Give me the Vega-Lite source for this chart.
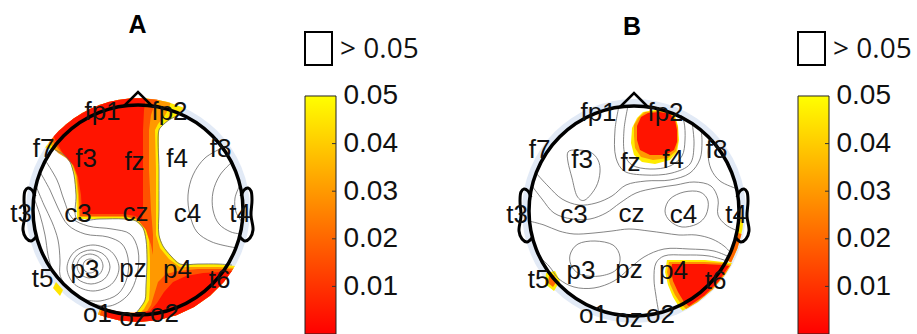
{
"$schema":"https://vega.github.io/schema/vega-lite/v6.json",
"padding":0,"spacing":0,"bounds":"flush","background":"white",
"config":{"view":{"stroke":null}},
"datasets":{
"regA":[
{"id":"a1","p":0.046,"i":0,"x":45.6,"y":102.3},{"id":"a1","p":0.046,"i":1,"x":29.0,"y":108.2},{"id":"a1","p":0.046,"i":2,"x":9.8,"y":111.6},{"id":"a1","p":0.046,"i":3,"x":-9.8,"y":111.6},{"id":"a1","p":0.046,"i":4,"x":-29.0,"y":108.2},{"id":"a1","p":0.046,"i":5,"x":-47.3,"y":101.5},{"id":"a1","p":0.046,"i":6,"x":-64.2,"y":91.7},{"id":"a1","p":0.046,"i":7,"x":-79.2,"y":79.2},{"id":"a1","p":0.046,"i":8,"x":-92.9,"y":62.6},{"id":"a1","p":0.046,"i":9,"x":-83,"y":60},{"id":"a1","p":0.046,"i":10,"x":-74,"y":55},{"id":"a1","p":0.046,"i":11,"x":-68,"y":48},{"id":"a1","p":0.046,"i":12,"x":-64,"y":35},{"id":"a1","p":0.046,"i":13,"x":-62,"y":15},{"id":"a1","p":0.046,"i":14,"x":-61,"y":-9},{"id":"a1","p":0.046,"i":15,"x":-38,"y":-9},{"id":"a1","p":0.046,"i":16,"x":-14,"y":-9},{"id":"a1","p":0.046,"i":17,"x":-2,"y":-11},{"id":"a1","p":0.046,"i":18,"x":5,"y":-18},{"id":"a1","p":0.046,"i":19,"x":8,"y":-30},{"id":"a1","p":0.046,"i":20,"x":9,"y":-50},{"id":"a1","p":0.046,"i":21,"x":8,"y":-75},{"id":"a1","p":0.046,"i":22,"x":7,"y":-90},{"id":"a1","p":0.046,"i":23,"x":2,"y":-98},{"id":"a1","p":0.046,"i":24,"x":-2,"y":-103},{"id":"a1","p":0.046,"i":25,"x":-18.1,"y":-102.4},{"id":"a1","p":0.046,"i":26,"x":-37.3,"y":-97.1},{"id":"a1","p":0.046,"i":27,"x":-40.1,"y":-104.6},{"id":"a1","p":0.046,"i":28,"x":-19.4,"y":-110.3},{"id":"a1","p":0.046,"i":29,"x":0,"y":-112},{"id":"a1","p":0.046,"i":30,"x":19.4,"y":-110.3},{"id":"a1","p":0.046,"i":31,"x":38.3,"y":-105.2},{"id":"a1","p":0.046,"i":32,"x":56,"y":-97},{"id":"a1","p":0.046,"i":33,"x":72,"y":-85.8},{"id":"a1","p":0.046,"i":34,"x":85.8,"y":-72},{"id":"a1","p":0.046,"i":35,"x":97,"y":-56},{"id":"a1","p":0.046,"i":36,"x":80,"y":-54},{"id":"a1","p":0.046,"i":37,"x":60,"y":-54},{"id":"a1","p":0.046,"i":38,"x":42,"y":-54},{"id":"a1","p":0.046,"i":39,"x":33,"y":-46},{"id":"a1","p":0.046,"i":40,"x":25,"y":-36},{"id":"a1","p":0.046,"i":41,"x":21,"y":-25},{"id":"a1","p":0.046,"i":42,"x":21,"y":0},{"id":"a1","p":0.046,"i":43,"x":21,"y":40},{"id":"a1","p":0.046,"i":44,"x":21,"y":80},{"id":"a1","p":0.046,"i":45,"x":24,"y":84},{"id":"a1","p":0.046,"i":46,"x":31,"y":90},{"id":"a1","p":0.046,"i":47,"x":39,"y":94},
{"id":"a5","p":0.045,"i":0,"x":-82,"y":-72},{"id":"a5","p":0.045,"i":1,"x":-75,"y":-80},{"id":"a5","p":0.045,"i":2,"x":-78,"y":-86},{"id":"a5","p":0.045,"i":3,"x":-85,"y":-78},
{"id":"a2","p":0.03,"i":0,"x":32.7,"y":107.1},{"id":"a2","p":0.03,"i":1,"x":19.4,"y":110.3},{"id":"a2","p":0.03,"i":2,"x":0,"y":112},{"id":"a2","p":0.03,"i":3,"x":-19.4,"y":110.3},{"id":"a2","p":0.03,"i":4,"x":-38.3,"y":105.2},{"id":"a2","p":0.03,"i":5,"x":-56,"y":97},{"id":"a2","p":0.03,"i":6,"x":-72,"y":85.8},{"id":"a2","p":0.03,"i":7,"x":-89.4,"y":67.4},{"id":"a2","p":0.03,"i":8,"x":-80,"y":57},{"id":"a2","p":0.03,"i":9,"x":-72,"y":52},{"id":"a2","p":0.03,"i":10,"x":-66,"y":46},{"id":"a2","p":0.03,"i":11,"x":-62,"y":34},{"id":"a2","p":0.03,"i":12,"x":-60,"y":15},{"id":"a2","p":0.03,"i":13,"x":-59,"y":-7},{"id":"a2","p":0.03,"i":14,"x":-38,"y":-7},{"id":"a2","p":0.03,"i":15,"x":-14,"y":-7},{"id":"a2","p":0.03,"i":16,"x":-1,"y":-9},{"id":"a2","p":0.03,"i":17,"x":7,"y":-17},{"id":"a2","p":0.03,"i":18,"x":11,"y":-30},{"id":"a2","p":0.03,"i":19,"x":12,"y":-50},{"id":"a2","p":0.03,"i":20,"x":12,"y":-75},{"id":"a2","p":0.03,"i":21,"x":11,"y":-90},{"id":"a2","p":0.03,"i":22,"x":6,"y":-99},{"id":"a2","p":0.03,"i":23,"x":2,"y":-103},{"id":"a2","p":0.03,"i":24,"x":-18.1,"y":-102.4},{"id":"a2","p":0.03,"i":25,"x":-37.3,"y":-97.1},{"id":"a2","p":0.03,"i":26,"x":-40.1,"y":-104.6},{"id":"a2","p":0.03,"i":27,"x":-19.4,"y":-110.3},{"id":"a2","p":0.03,"i":28,"x":0,"y":-112},{"id":"a2","p":0.03,"i":29,"x":19.4,"y":-110.3},{"id":"a2","p":0.03,"i":30,"x":38.3,"y":-105.2},{"id":"a2","p":0.03,"i":31,"x":56,"y":-97},{"id":"a2","p":0.03,"i":32,"x":72,"y":-85.8},{"id":"a2","p":0.03,"i":33,"x":85.8,"y":-72},{"id":"a2","p":0.03,"i":34,"x":96,"y":-57.7},{"id":"a2","p":0.03,"i":35,"x":80,"y":-57},{"id":"a2","p":0.03,"i":36,"x":60,"y":-57},{"id":"a2","p":0.03,"i":37,"x":42,"y":-57},{"id":"a2","p":0.03,"i":38,"x":31,"y":-49},{"id":"a2","p":0.03,"i":39,"x":22,"y":-38},{"id":"a2","p":0.03,"i":40,"x":18,"y":-25},{"id":"a2","p":0.03,"i":41,"x":18,"y":0},{"id":"a2","p":0.03,"i":42,"x":18,"y":40},{"id":"a2","p":0.03,"i":43,"x":17,"y":80},{"id":"a2","p":0.03,"i":44,"x":20,"y":86},{"id":"a2","p":0.03,"i":45,"x":26,"y":93},{"id":"a2","p":0.03,"i":46,"x":30,"y":100},
{"id":"a3f","p":0.016,"i":0,"x":19.4,"y":110.3},{"id":"a3f","p":0.016,"i":1,"x":0,"y":112},{"id":"a3f","p":0.016,"i":2,"x":-19.4,"y":110.3},{"id":"a3f","p":0.016,"i":3,"x":-38.3,"y":105.2},{"id":"a3f","p":0.016,"i":4,"x":-56,"y":97},{"id":"a3f","p":0.016,"i":5,"x":-72,"y":85.8},{"id":"a3f","p":0.016,"i":6,"x":-87.0,"y":70.5},{"id":"a3f","p":0.016,"i":7,"x":-78,"y":59},{"id":"a3f","p":0.016,"i":8,"x":-71,"y":52},{"id":"a3f","p":0.016,"i":9,"x":-65,"y":45},{"id":"a3f","p":0.016,"i":10,"x":-61,"y":34},{"id":"a3f","p":0.016,"i":11,"x":-59,"y":15},{"id":"a3f","p":0.016,"i":12,"x":-58,"y":-6},{"id":"a3f","p":0.016,"i":13,"x":-38,"y":-6},{"id":"a3f","p":0.016,"i":14,"x":-14,"y":-6},{"id":"a3f","p":0.016,"i":15,"x":-1,"y":-9},{"id":"a3f","p":0.016,"i":16,"x":8,"y":-20},{"id":"a3f","p":0.016,"i":17,"x":13,"y":-35},{"id":"a3f","p":0.016,"i":18,"x":15,"y":-45},{"id":"a3f","p":0.016,"i":19,"x":15,"y":-25},{"id":"a3f","p":0.016,"i":20,"x":13,"y":0},{"id":"a3f","p":0.016,"i":21,"x":11,"y":40},{"id":"a3f","p":0.016,"i":22,"x":11,"y":80},{"id":"a3f","p":0.016,"i":23,"x":13,"y":95},{"id":"a3f","p":0.016,"i":24,"x":16,"y":104},
{"id":"a3l","p":0.016,"i":0,"x":-38.3,"y":-105.2},{"id":"a3l","p":0.016,"i":1,"x":-19.4,"y":-110.3},{"id":"a3l","p":0.016,"i":2,"x":0,"y":-112},{"id":"a3l","p":0.016,"i":3,"x":19.4,"y":-110.3},{"id":"a3l","p":0.016,"i":4,"x":38.3,"y":-105.2},{"id":"a3l","p":0.016,"i":5,"x":56,"y":-97},{"id":"a3l","p":0.016,"i":6,"x":72,"y":-85.8},{"id":"a3l","p":0.016,"i":7,"x":85.8,"y":-72},{"id":"a3l","p":0.016,"i":8,"x":95,"y":-59.3},{"id":"a3l","p":0.016,"i":9,"x":88,"y":-59},{"id":"a3l","p":0.016,"i":10,"x":60,"y":-59},{"id":"a3l","p":0.016,"i":11,"x":40,"y":-61},{"id":"a3l","p":0.016,"i":12,"x":28,"y":-64},{"id":"a3l","p":0.016,"i":13,"x":20,"y":-72},{"id":"a3l","p":0.016,"i":14,"x":16,"y":-85},{"id":"a3l","p":0.016,"i":15,"x":13,"y":-95},{"id":"a3l","p":0.016,"i":16,"x":8,"y":-103},{"id":"a3l","p":0.016,"i":17,"x":-18.1,"y":-102.4},{"id":"a3l","p":0.016,"i":18,"x":-35.6,"y":-97.7},
{"id":"a4f","p":0.004,"i":0,"x":7.8,"y":111.7},{"id":"a4f","p":0.004,"i":1,"x":-9.8,"y":111.6},{"id":"a4f","p":0.004,"i":2,"x":-29.0,"y":108.2},{"id":"a4f","p":0.004,"i":3,"x":-47.3,"y":101.5},{"id":"a4f","p":0.004,"i":4,"x":-64.2,"y":91.7},{"id":"a4f","p":0.004,"i":5,"x":-79.2,"y":79.2},{"id":"a4f","p":0.004,"i":6,"x":-84.5,"y":73.5},{"id":"a4f","p":0.004,"i":7,"x":-76,"y":58},{"id":"a4f","p":0.004,"i":8,"x":-70,"y":51},{"id":"a4f","p":0.004,"i":9,"x":-64,"y":44},{"id":"a4f","p":0.004,"i":10,"x":-60,"y":33},{"id":"a4f","p":0.004,"i":11,"x":-57,"y":15},{"id":"a4f","p":0.004,"i":12,"x":-56,"y":-4},{"id":"a4f","p":0.004,"i":13,"x":-38,"y":-4},{"id":"a4f","p":0.004,"i":14,"x":-14,"y":-4},{"id":"a4f","p":0.004,"i":15,"x":-3,"y":-6},{"id":"a4f","p":0.004,"i":16,"x":4,"y":-10},{"id":"a4f","p":0.004,"i":17,"x":5,"y":0},{"id":"a4f","p":0.004,"i":18,"x":5,"y":40},{"id":"a4f","p":0.004,"i":19,"x":5,"y":80},{"id":"a4f","p":0.004,"i":20,"x":6,"y":100},
{"id":"a4l","p":0.004,"i":0,"x":-34.6,"y":-106.5},{"id":"a4l","p":0.004,"i":1,"x":-19.4,"y":-110.3},{"id":"a4l","p":0.004,"i":2,"x":0,"y":-112},{"id":"a4l","p":0.004,"i":3,"x":19.4,"y":-110.3},{"id":"a4l","p":0.004,"i":4,"x":38.3,"y":-105.2},{"id":"a4l","p":0.004,"i":5,"x":56,"y":-97},{"id":"a4l","p":0.004,"i":6,"x":72,"y":-85.8},{"id":"a4l","p":0.004,"i":7,"x":85.8,"y":-72},{"id":"a4l","p":0.004,"i":8,"x":93.9,"y":-61},{"id":"a4l","p":0.004,"i":9,"x":85,"y":-62},{"id":"a4l","p":0.004,"i":10,"x":65,"y":-63},{"id":"a4l","p":0.004,"i":11,"x":48,"y":-66},{"id":"a4l","p":0.004,"i":12,"x":35,"y":-72},{"id":"a4l","p":0.004,"i":13,"x":26,"y":-82},{"id":"a4l","p":0.004,"i":14,"x":19,"y":-93},{"id":"a4l","p":0.004,"i":15,"x":12,"y":-101},{"id":"a4l","p":0.004,"i":16,"x":-9.1,"y":-103.6},{"id":"a4l","p":0.004,"i":17,"x":-32.1,"y":-98.9}
],
"regB":[
{"id":"b1","p":0.046,"i":0,"x":3,"y":93},{"id":"b1","p":0.046,"i":1,"x":9,"y":99},{"id":"b1","p":0.046,"i":2,"x":21,"y":101},{"id":"b1","p":0.046,"i":3,"x":34,"y":100},{"id":"b1","p":0.046,"i":4,"x":41,"y":95},{"id":"b1","p":0.046,"i":5,"x":44,"y":85},{"id":"b1","p":0.046,"i":6,"x":45,"y":71},{"id":"b1","p":0.046,"i":7,"x":43,"y":59},{"id":"b1","p":0.046,"i":8,"x":36,"y":51},{"id":"b1","p":0.046,"i":9,"x":21,"y":47},{"id":"b1","p":0.046,"i":10,"x":8,"y":49},{"id":"b1","p":0.046,"i":11,"x":0,"y":56},{"id":"b1","p":0.046,"i":12,"x":-3,"y":68},{"id":"b1","p":0.046,"i":13,"x":-2,"y":83},
{"id":"b4","p":0.046,"i":0,"x":33,"y":-49},{"id":"b4","p":0.046,"i":1,"x":71,"y":-49},{"id":"b4","p":0.046,"i":2,"x":89,"y":-51},{"id":"b4","p":0.046,"i":3,"x":98.0,"y":-52.1},{"id":"b4","p":0.046,"i":4,"x":90.9,"y":-63.7},{"id":"b4","p":0.046,"i":5,"x":78.5,"y":-78.5},{"id":"b4","p":0.046,"i":6,"x":63.7,"y":-90.9},{"id":"b4","p":0.046,"i":7,"x":48.7,"y":-99.8},{"id":"b4","p":0.046,"i":8,"x":45,"y":-96},{"id":"b4","p":0.046,"i":9,"x":39,"y":-86},{"id":"b4","p":0.046,"i":10,"x":34,"y":-74},{"id":"b4","p":0.046,"i":11,"x":31,"y":-61},
{"id":"b7","p":0.046,"i":0,"x":109.8,"y":-5.8},{"id":"b7","p":0.046,"i":1,"x":108.3,"y":-19.1},{"id":"b7","p":0.046,"i":2,"x":103.4,"y":-37.6},{"id":"b7","p":0.046,"i":3,"x":97.1,"y":-51.6},{"id":"b7","p":0.046,"i":4,"x":92.7,"y":-49.3},{"id":"b7","p":0.046,"i":5,"x":98.7,"y":-35.9},{"id":"b7","p":0.046,"i":6,"x":103.4,"y":-18.2},{"id":"b7","p":0.046,"i":7,"x":104.9,"y":-5.5},
{"id":"b10","p":0.046,"i":0,"x":-79,"y":-60},{"id":"b10","p":0.046,"i":1,"x":-74,"y":-70},{"id":"b10","p":0.046,"i":2,"x":-80,"y":-80},{"id":"b10","p":0.046,"i":3,"x":-89,"y":-73},{"id":"b10","p":0.046,"i":4,"x":-88,"y":-62},
{"id":"b2","p":0.03,"i":0,"x":5,"y":94},{"id":"b2","p":0.03,"i":1,"x":11,"y":99},{"id":"b2","p":0.03,"i":2,"x":24,"y":100},{"id":"b2","p":0.03,"i":3,"x":35,"y":99},{"id":"b2","p":0.03,"i":4,"x":41,"y":93},{"id":"b2","p":0.03,"i":5,"x":44,"y":83},{"id":"b2","p":0.03,"i":6,"x":44,"y":70},{"id":"b2","p":0.03,"i":7,"x":42,"y":60},{"id":"b2","p":0.03,"i":8,"x":34,"y":53},{"id":"b2","p":0.03,"i":9,"x":19,"y":51},{"id":"b2","p":0.03,"i":10,"x":7,"y":54},{"id":"b2","p":0.03,"i":11,"x":1,"y":63},{"id":"b2","p":0.03,"i":12,"x":0,"y":75},{"id":"b2","p":0.03,"i":13,"x":0,"y":86},
{"id":"b5","p":0.028,"i":0,"x":35,"y":-51},{"id":"b5","p":0.028,"i":1,"x":71,"y":-51},{"id":"b5","p":0.028,"i":2,"x":89,"y":-52},{"id":"b5","p":0.028,"i":3,"x":97.1,"y":-53.8},{"id":"b5","p":0.028,"i":4,"x":90.9,"y":-63.7},{"id":"b5","p":0.028,"i":5,"x":78.5,"y":-78.5},{"id":"b5","p":0.028,"i":6,"x":63.7,"y":-90.9},{"id":"b5","p":0.028,"i":7,"x":52.1,"y":-98.0},{"id":"b5","p":0.028,"i":8,"x":47,"y":-93},{"id":"b5","p":0.028,"i":9,"x":41,"y":-84},{"id":"b5","p":0.028,"i":10,"x":36,"y":-73},{"id":"b5","p":0.028,"i":11,"x":33,"y":-61},
{"id":"b8","p":0.02,"i":0,"x":107.6,"y":-22.9},{"id":"b8","p":0.02,"i":1,"x":103.4,"y":-37.6},{"id":"b8","p":0.02,"i":2,"x":97.1,"y":-51.6},{"id":"b8","p":0.02,"i":3,"x":92.7,"y":-49.3},{"id":"b8","p":0.02,"i":4,"x":98.7,"y":-35.9},{"id":"b8","p":0.02,"i":5,"x":102.7,"y":-21.8},
{"id":"b9","p":0.02,"i":0,"x":-80,"y":-64},{"id":"b9","p":0.02,"i":1,"x":-77,"y":-70},{"id":"b9","p":0.02,"i":2,"x":-81,"y":-76},{"id":"b9","p":0.02,"i":3,"x":-86,"y":-72},{"id":"b9","p":0.02,"i":4,"x":-85,"y":-65},
{"id":"b3","p":0.004,"i":0,"x":7,"y":94},{"id":"b3","p":0.004,"i":1,"x":14,"y":98},{"id":"b3","p":0.004,"i":2,"x":26,"y":99},{"id":"b3","p":0.004,"i":3,"x":36,"y":97},{"id":"b3","p":0.004,"i":4,"x":41,"y":91},{"id":"b3","p":0.004,"i":5,"x":43,"y":81},{"id":"b3","p":0.004,"i":6,"x":43,"y":69},{"id":"b3","p":0.004,"i":7,"x":40,"y":61},{"id":"b3","p":0.004,"i":8,"x":31,"y":56},{"id":"b3","p":0.004,"i":9,"x":16,"y":56},{"id":"b3","p":0.004,"i":10,"x":6,"y":61},{"id":"b3","p":0.004,"i":11,"x":3,"y":71},{"id":"b3","p":0.004,"i":12,"x":3,"y":85},
{"id":"b6","p":0.004,"i":0,"x":38,"y":-53},{"id":"b6","p":0.004,"i":1,"x":70,"y":-53},{"id":"b6","p":0.004,"i":2,"x":90,"y":-54},{"id":"b6","p":0.004,"i":3,"x":95.3,"y":-55},{"id":"b6","p":0.004,"i":4,"x":84.3,"y":-70.7},{"id":"b6","p":0.004,"i":5,"x":70.7,"y":-84.3},{"id":"b6","p":0.004,"i":6,"x":55,"y":-95.3},{"id":"b6","p":0.004,"i":7,"x":50,"y":-91},{"id":"b6","p":0.004,"i":8,"x":44,"y":-81},{"id":"b6","p":0.004,"i":9,"x":39,"y":-70},{"id":"b6","p":0.004,"i":10,"x":37,"y":-60}
],
"conA_loop":[
{"id":"p1","i":0,"x":-41,"y":-56},{"id":"p1","i":1,"x":-43,"y":-51},{"id":"p1","i":2,"x":-48,"y":-49},{"id":"p1","i":3,"x":-53,"y":-51},{"id":"p1","i":4,"x":-55,"y":-56},{"id":"p1","i":5,"x":-53,"y":-61},{"id":"p1","i":6,"x":-48,"y":-63},{"id":"p1","i":7,"x":-43,"y":-61},
{"id":"p2","i":0,"x":-35,"y":-56},{"id":"p2","i":1,"x":-38.8,"y":-47.5},{"id":"p2","i":2,"x":-48,"y":-44},{"id":"p2","i":3,"x":-57.2,"y":-47.5},{"id":"p2","i":4,"x":-61,"y":-56},{"id":"p2","i":5,"x":-57.2,"y":-64.5},{"id":"p2","i":6,"x":-48,"y":-68},{"id":"p2","i":7,"x":-38.8,"y":-64.5},
{"id":"p3","i":0,"x":-28,"y":-57},{"id":"p3","i":1,"x":-33.6,"y":-45},{"id":"p3","i":2,"x":-47,"y":-40},{"id":"p3","i":3,"x":-60.4,"y":-45},{"id":"p3","i":4,"x":-66,"y":-57},{"id":"p3","i":5,"x":-60.4,"y":-69},{"id":"p3","i":6,"x":-47,"y":-74},{"id":"p3","i":7,"x":-33.6,"y":-69},
{"id":"p4","i":0,"x":-19,"y":-58},{"id":"p4","i":1,"x":-26.6,"y":-41.7},{"id":"p4","i":2,"x":-45,"y":-35},{"id":"p4","i":3,"x":-63.4,"y":-41.7},{"id":"p4","i":4,"x":-71,"y":-58},{"id":"p4","i":5,"x":-63.4,"y":-74.3},{"id":"p4","i":6,"x":-45,"y":-81},{"id":"p4","i":7,"x":-26.6,"y":-74.3}
],
"conA_open":[
{"id":"c5","i":0,"x":-93,"y":50},{"id":"c5","i":1,"x":-81,"y":30},{"id":"c5","i":2,"x":-74,"y":10},{"id":"c5","i":3,"x":-66,"y":-8},{"id":"c5","i":4,"x":-50,"y":-16},{"id":"c5","i":5,"x":-26,"y":-19},{"id":"c5","i":6,"x":-8,"y":-24},{"id":"c5","i":7,"x":0,"y":-40},{"id":"c5","i":8,"x":-1,"y":-65},{"id":"c5","i":9,"x":-10,"y":-85},{"id":"c5","i":10,"x":-28,"y":-96},{"id":"c5","i":11,"x":-48,"y":-93},
{"id":"c6","i":0,"x":-98,"y":38},{"id":"c6","i":1,"x":-88,"y":20},{"id":"c6","i":2,"x":-80,"y":2},{"id":"c6","i":3,"x":-70,"y":-15},{"id":"c6","i":4,"x":-53,"y":-24},{"id":"c6","i":5,"x":-30,"y":-27},{"id":"c6","i":6,"x":-16,"y":-34},{"id":"c6","i":7,"x":-10,"y":-48},{"id":"c6","i":8,"x":-11,"y":-68},{"id":"c6","i":9,"x":-20,"y":-84},{"id":"c6","i":10,"x":-38,"y":-91},{"id":"c6","i":11,"x":-52,"y":-90},
{"id":"c7","i":0,"x":-102,"y":24},{"id":"c7","i":1,"x":-94,"y":5},{"id":"c7","i":2,"x":-86,"y":-12},{"id":"c7","i":3,"x":-80,"y":-30},{"id":"c7","i":4,"x":-78,"y":-50},{"id":"c7","i":5,"x":-78,"y":-65},{"id":"c7","i":6,"x":-73,"y":-75},
{"id":"c8","i":0,"x":-104,"y":12},{"id":"c8","i":1,"x":-98,"y":-5},{"id":"c8","i":2,"x":-93,"y":-25},{"id":"c8","i":3,"x":-90,"y":-45},{"id":"c8","i":4,"x":-87,"y":-57},
{"id":"r1","i":0,"x":84,"y":62},{"id":"r1","i":1,"x":67,"y":52},{"id":"r1","i":2,"x":55,"y":35},{"id":"r1","i":3,"x":50,"y":15},{"id":"r1","i":4,"x":52,"y":-5},{"id":"r1","i":5,"x":59,"y":-22},{"id":"r1","i":6,"x":74,"y":-32},{"id":"r1","i":7,"x":99,"y":-38},
{"id":"r2","i":0,"x":94,"y":48},{"id":"r2","i":1,"x":82,"y":35},{"id":"r2","i":2,"x":75,"y":18},{"id":"r2","i":3,"x":75,"y":0},{"id":"r2","i":4,"x":81,"y":-14},{"id":"r2","i":5,"x":93,"y":-22},{"id":"r2","i":6,"x":103,"y":-24},
{"id":"r3","i":0,"x":102,"y":25},{"id":"r3","i":1,"x":97,"y":12},{"id":"r3","i":2,"x":98,"y":-2},{"id":"r3","i":3,"x":104,"y":-12},
{"id":"e1","i":0,"x":-83,"y":60},{"id":"e1","i":1,"x":-74,"y":55},{"id":"e1","i":2,"x":-68,"y":48},{"id":"e1","i":3,"x":-64,"y":35},{"id":"e1","i":4,"x":-62,"y":15},{"id":"e1","i":5,"x":-61,"y":-9},{"id":"e1","i":6,"x":-38,"y":-9},{"id":"e1","i":7,"x":-14,"y":-9},{"id":"e1","i":8,"x":-2,"y":-11},{"id":"e1","i":9,"x":5,"y":-18},{"id":"e1","i":10,"x":8,"y":-30},{"id":"e1","i":11,"x":9,"y":-50},{"id":"e1","i":12,"x":8,"y":-75},{"id":"e1","i":13,"x":7,"y":-90},{"id":"e1","i":14,"x":2,"y":-98},{"id":"e1","i":15,"x":-2,"y":-103},
{"id":"e2","i":0,"x":39,"y":94},{"id":"e2","i":1,"x":31,"y":90},{"id":"e2","i":2,"x":24,"y":84},{"id":"e2","i":3,"x":21,"y":80},{"id":"e2","i":4,"x":21,"y":40},{"id":"e2","i":5,"x":21,"y":0},{"id":"e2","i":6,"x":21,"y":-25},{"id":"e2","i":7,"x":25,"y":-36},{"id":"e2","i":8,"x":33,"y":-46},{"id":"e2","i":9,"x":42,"y":-54},{"id":"e2","i":10,"x":60,"y":-54},{"id":"e2","i":11,"x":80,"y":-54},{"id":"e2","i":12,"x":94,"y":-55}
],
"conB_loop":[
{"id":"f3","i":0,"x":-66,"y":59},{"id":"f3","i":1,"x":-58,"y":61},{"id":"f3","i":2,"x":-44,"y":59},{"id":"f3","i":3,"x":-36,"y":51},{"id":"f3","i":4,"x":-34,"y":39},{"id":"f3","i":5,"x":-38,"y":24},{"id":"f3","i":6,"x":-49,"y":11},{"id":"f3","i":7,"x":-57,"y":15},{"id":"f3","i":8,"x":-62,"y":33},{"id":"f3","i":9,"x":-66,"y":49},
{"id":"c4","i":0,"x":31,"y":0},{"id":"c4","i":1,"x":36,"y":12},{"id":"c4","i":2,"x":50,"y":19},{"id":"c4","i":3,"x":66,"y":19},{"id":"c4","i":4,"x":74,"y":10},{"id":"c4","i":5,"x":72,"y":-4},{"id":"c4","i":6,"x":63,"y":-13},{"id":"c4","i":7,"x":48,"y":-16},{"id":"c4","i":8,"x":36,"y":-10},
{"id":"p3","i":0,"x":-64,"y":-44},{"id":"p3","i":1,"x":-56,"y":-33},{"id":"p3","i":2,"x":-39,"y":-30},{"id":"p3","i":3,"x":-21,"y":-34},{"id":"p3","i":4,"x":-14,"y":-46},{"id":"p3","i":5,"x":-18,"y":-59},{"id":"p3","i":6,"x":-34,"y":-65},{"id":"p3","i":7,"x":-52,"y":-64},{"id":"p3","i":8,"x":-62,"y":-56}
],
"conB_open":[
{"id":"u1","i":0,"x":-6,"y":105},{"id":"u1","i":1,"x":-10,"y":81},{"id":"u1","i":2,"x":-9,"y":56},{"id":"u1","i":3,"x":-2,"y":46},{"id":"u1","i":4,"x":16,"y":42},{"id":"u1","i":5,"x":36,"y":45},{"id":"u1","i":6,"x":48,"y":55},{"id":"u1","i":7,"x":51,"y":71},{"id":"u1","i":8,"x":50,"y":89},{"id":"u1","i":9,"x":47,"y":96},
{"id":"u2","i":0,"x":-15,"y":105},{"id":"u2","i":1,"x":-19,"y":81},{"id":"u2","i":2,"x":-18,"y":53},{"id":"u2","i":3,"x":-10,"y":40},{"id":"u2","i":4,"x":11,"y":36},{"id":"u2","i":5,"x":38,"y":38},{"id":"u2","i":6,"x":56,"y":47},{"id":"u2","i":7,"x":60,"y":66},{"id":"u2","i":8,"x":58,"y":89},
{"id":"s1","i":0,"x":-98,"y":38},{"id":"s1","i":1,"x":-86,"y":25},{"id":"s1","i":2,"x":-72,"y":12},{"id":"s1","i":3,"x":-55,"y":6},{"id":"s1","i":4,"x":-38,"y":8},{"id":"s1","i":5,"x":-22,"y":15},{"id":"s1","i":6,"x":-8,"y":26},{"id":"s1","i":7,"x":12,"y":30},{"id":"s1","i":8,"x":36,"y":31},{"id":"s1","i":9,"x":56,"y":38},{"id":"s1","i":10,"x":66,"y":52},{"id":"s1","i":11,"x":68,"y":70},{"id":"s1","i":12,"x":67,"y":82},
{"id":"s2","i":0,"x":-102.7,"y":26},{"id":"s2","i":1,"x":-92,"y":12},{"id":"s2","i":2,"x":-80,"y":-2},{"id":"s2","i":3,"x":-62,"y":-8},{"id":"s2","i":4,"x":-44,"y":-8},{"id":"s2","i":5,"x":-28,"y":-2},{"id":"s2","i":6,"x":-14,"y":8},{"id":"s2","i":7,"x":2,"y":18},{"id":"s2","i":8,"x":22,"y":23},{"id":"s2","i":9,"x":42,"y":26},{"id":"s2","i":10,"x":60,"y":29},{"id":"s2","i":11,"x":77,"y":25},{"id":"s2","i":12,"x":84,"y":12},{"id":"s2","i":13,"x":84,"y":-4},{"id":"s2","i":14,"x":92,"y":-14},{"id":"s2","i":15,"x":104,"y":-20},
{"id":"s3","i":0,"x":-105,"y":-10},{"id":"s3","i":1,"x":-90,"y":-14},{"id":"s3","i":2,"x":-75,"y":-20},{"id":"s3","i":3,"x":-60,"y":-23},{"id":"s3","i":4,"x":-40,"y":-22},{"id":"s3","i":5,"x":-22,"y":-20},{"id":"s3","i":6,"x":-5,"y":-18},{"id":"s3","i":7,"x":15,"y":-20},{"id":"s3","i":8,"x":30,"y":-22},{"id":"s3","i":9,"x":45,"y":-24},{"id":"s3","i":10,"x":62,"y":-24},{"id":"s3","i":11,"x":78,"y":-28},{"id":"s3","i":12,"x":90,"y":-35},{"id":"s3","i":13,"x":97,"y":-42},
{"id":"s4","i":0,"x":-95.8,"y":-45},{"id":"s4","i":1,"x":-85,"y":-55},{"id":"s4","i":2,"x":-75,"y":-68},{"id":"s4","i":3,"x":-60,"y":-76},{"id":"s4","i":4,"x":-40,"y":-77},{"id":"s4","i":5,"x":-20,"y":-70},{"id":"s4","i":6,"x":-5,"y":-58},{"id":"s4","i":7,"x":10,"y":-46},{"id":"s4","i":8,"x":30,"y":-38},{"id":"s4","i":9,"x":55,"y":-38},{"id":"s4","i":10,"x":80,"y":-40},{"id":"s4","i":11,"x":95.3,"y":-46},
{"id":"s5","i":0,"x":25,"y":-103},{"id":"s5","i":1,"x":22,"y":-85},{"id":"s5","i":2,"x":20,"y":-68},{"id":"s5","i":3,"x":22,"y":-52},{"id":"s5","i":4,"x":30,"y":-45},{"id":"s5","i":5,"x":50,"y":-44},{"id":"s5","i":6,"x":75,"y":-45},{"id":"s5","i":7,"x":93,"y":-50},
{"id":"s8","i":0,"x":76,"y":73.6},{"id":"s8","i":1,"x":74,"y":58},{"id":"s8","i":2,"x":77,"y":42},{"id":"s8","i":3,"x":86,"y":30},{"id":"s8","i":4,"x":103.7,"y":22}
],
"nose":[{"i":0,"x":-14,"y":104},{"i":1,"x":0,"y":118},{"i":2,"x":14,"y":104}],
"ears":[
{"side":"R","i":0,"x":103,"y":14},{"side":"R","i":1,"x":106,"y":20},{"side":"R","i":2,"x":110,"y":22},{"side":"R","i":3,"x":113,"y":19},{"side":"R","i":4,"x":114,"y":10},{"side":"R","i":5,"x":113,"y":-5},{"side":"R","i":6,"x":115,"y":-20},{"side":"R","i":7,"x":112,"y":-28},{"side":"R","i":8,"x":107,"y":-31},{"side":"R","i":9,"x":102,"y":-27},
{"side":"L","i":0,"x":-103,"y":14},{"side":"L","i":1,"x":-106,"y":20},{"side":"L","i":2,"x":-110,"y":22},{"side":"L","i":3,"x":-113,"y":19},{"side":"L","i":4,"x":-114,"y":10},{"side":"L","i":5,"x":-113,"y":-5},{"side":"L","i":6,"x":-115,"y":-20},{"side":"L","i":7,"x":-112,"y":-28},{"side":"L","i":8,"x":-107,"y":-31},{"side":"L","i":9,"x":-102,"y":-27}
],
"elec":[
{"label":"fp1","x":-35.5,"y":90},{"label":"fp2","x":31.5,"y":90},{"label":"f7","x":-94.5,"y":53},{"label":"f3","x":-52,"y":43},{"label":"fz","x":-3.5,"y":40},{"label":"f4","x":39,"y":43},{"label":"f8","x":82.5,"y":53},
{"label":"t3","x":-117,"y":-12},{"label":"c3","x":-60,"y":-12},{"label":"cz","x":-2.5,"y":-11},{"label":"c4","x":49.5,"y":-12},{"label":"t4","x":102,"y":-12},
{"label":"t5","x":-95.5,"y":-77},{"label":"p3","x":-53,"y":-68},{"label":"pz","x":-5,"y":-67},{"label":"p4","x":39.5,"y":-68},{"label":"t6","x":81.5,"y":-78},
{"label":"o1","x":-40.5,"y":-112},{"label":"oz","x":-5,"y":-116},{"label":"o2","x":26.5,"y":-112}
],
"ticks":[{"v":0.01},{"v":0.02},{"v":0.03},{"v":0.04}]
},
"hconcat":[
{
"width":305,"height":334,
"encoding":{"x":{"field":"x","type":"quantitative","scale":{"domain":[-138,167],"nice":false,"zero":false},"axis":null},"y":{"field":"y","type":"quantitative","scale":{"domain":[-124,210],"nice":false,"zero":false},"axis":null}},
"layer":[
{"data":{"values":[{"x":0,"y":0}]},"mark":{"type":"point","shape":"circle","filled":true,"fill":"#e2eaf6","size":50176,"strokeWidth":0,"opacity":1}},
{"data":{"values":[{"x":0,"y":0}]},"mark":{"type":"point","shape":"circle","filled":true,"fill":"#ffffff","size":44100,"strokeWidth":0,"opacity":1}},
{"data":{"name":"regA"},"transform":[{"filter":"datum.p > 0.04"}],"mark":{"type":"line","interpolate":"linear-closed","strokeWidth":0},"encoding":{"fill":{"field":"p","type":"quantitative","scale":{"domain":[0,0.05],"range":["#ff0000","#ffff00"],"interpolate":"rgb"},"legend":null},"detail":{"field":"id"},"order":{"field":"i","type":"quantitative"}}},
{"data":{"name":"regA"},"transform":[{"filter":"datum.p > 0.025 && datum.p <= 0.04"}],"mark":{"type":"line","interpolate":"linear-closed","strokeWidth":0},"encoding":{"fill":{"field":"p","type":"quantitative","legend":null},"detail":{"field":"id"},"order":{"field":"i","type":"quantitative"}}},
{"data":{"name":"regA"},"transform":[{"filter":"datum.p > 0.01 && datum.p <= 0.025"}],"mark":{"type":"line","interpolate":"linear-closed","strokeWidth":0},"encoding":{"fill":{"field":"p","type":"quantitative","legend":null},"detail":{"field":"id"},"order":{"field":"i","type":"quantitative"}}},
{"data":{"name":"regA"},"transform":[{"filter":"datum.p <= 0.01"}],"mark":{"type":"line","interpolate":"linear-closed","strokeWidth":0},"encoding":{"fill":{"field":"p","type":"quantitative","legend":null},"detail":{"field":"id"},"order":{"field":"i","type":"quantitative"}}},
{"data":{"name":"conA_loop"},"mark":{"type":"line","interpolate":"cardinal-closed","stroke":"#666666","strokeWidth":0.8},"encoding":{"detail":{"field":"id"},"order":{"field":"i","type":"quantitative"}}},
{"data":{"name":"conA_open"},"mark":{"type":"line","interpolate":"catmull-rom","stroke":"#666666","strokeWidth":0.8},"encoding":{"detail":{"field":"id"},"order":{"field":"i","type":"quantitative"}}},
{"data":{"values":[{"x":0,"y":0}]},"mark":{"type":"point","shape":"circle","filled":false,"stroke":"#000000","strokeWidth":3.5,"size":44100,"opacity":1}},
{"data":{"name":"nose"},"mark":{"type":"line","stroke":"#000000","strokeWidth":2.5},"encoding":{"order":{"field":"i","type":"quantitative"}}},
{"data":{"name":"ears"},"mark":{"type":"line","interpolate":"catmull-rom","stroke":"#000000","strokeWidth":3},"encoding":{"detail":{"field":"side"},"order":{"field":"i","type":"quantitative"}}},
{"data":{"name":"elec"},"mark":{"type":"text","font":"Liberation Sans","fontSize":26,"align":"center","baseline":"alphabetic","color":"#111111"},"encoding":{"text":{"field":"label"}}},
{"data":{"values":[{"t":"A","x":-0.5,"y":177}]},"mark":{"type":"text","font":"Liberation Sans","fontSize":25,"fontWeight":"bold","align":"center","baseline":"alphabetic","color":"#000000"},"encoding":{"text":{"field":"t"}}}
]
},
{
"width":31,"height":334,
"layer":[
{"data":{"values":[{"lo":0,"hi":0.05}]},"mark":{"type":"rect","fill":{"gradient":"linear","x1":0,"y1":1,"x2":0,"y2":0,"stops":[{"offset":0,"color":"#ff0000"},{"offset":1,"color":"#ffff00"}]},"stroke":"#222222","strokeWidth":1},
"encoding":{"x":{"datum":0,"type":"quantitative","scale":{"domain":[0,31],"nice":false,"zero":false},"axis":null},"x2":{"datum":31},"y":{"field":"lo","type":"quantitative","scale":{"domain":[0,0.070168],"nice":false,"zero":false},"axis":{"orient":"right","values":[0.01,0.02,0.03,0.04,0.05],"format":".2f","labelFont":"Liberation Sans","labelFontSize":28,"labelColor":"#111111","ticks":false,"domain":false,"grid":false,"title":null,"labelPadding":7,"labelOverlap":false,"labelBound":false}},"y2":{"field":"hi"}}},
{"data":{"name":"ticks"},"mark":{"type":"rule","stroke":"#333333","strokeWidth":1},"encoding":{"x":{"datum":27,"type":"quantitative"},"x2":{"datum":31},"y":{"field":"v","type":"quantitative"}}},
{"data":{"values":[{"lo":0.05651,"hi":0.06345}]},"mark":{"type":"rect","fill":"#ffffff","stroke":"#000000","strokeWidth":2},"encoding":{"x":{"datum":0,"type":"quantitative"},"x2":{"datum":27},"y":{"field":"lo","type":"quantitative"},"y2":{"field":"hi"}}},
{"data":{"values":[{"t":"> 0.05","y":0.058}]},"mark":{"type":"text","font":"Open Sans","fontSize":28,"align":"left","baseline":"alphabetic","color":"#111111"},"encoding":{"x":{"datum":35,"type":"quantitative"},"y":{"field":"y","type":"quantitative"},"text":{"field":"t"}}}
]
},
{
"width":462,"height":334,
"encoding":{"x":{"field":"x","type":"quantitative","scale":{"domain":[-298,164],"nice":false,"zero":false},"axis":null},"y":{"field":"y","type":"quantitative","scale":{"domain":[-123,211],"nice":false,"zero":false},"axis":null}},
"layer":[
{"data":{"values":[{"x":0,"y":0}]},"mark":{"type":"point","shape":"circle","filled":true,"fill":"#e2eaf6","size":50176,"strokeWidth":0,"opacity":1}},
{"data":{"values":[{"x":0,"y":0}]},"mark":{"type":"point","shape":"circle","filled":true,"fill":"#ffffff","size":44100,"strokeWidth":0,"opacity":1}},
{"data":{"name":"regB"},"transform":[{"filter":"datum.p > 0.04"}],"mark":{"type":"line","interpolate":"linear-closed","strokeWidth":0},"encoding":{"fill":{"field":"p","type":"quantitative","legend":null},"detail":{"field":"id"},"order":{"field":"i","type":"quantitative"}}},
{"data":{"name":"regB"},"transform":[{"filter":"datum.p > 0.025 && datum.p <= 0.04"}],"mark":{"type":"line","interpolate":"linear-closed","strokeWidth":0},"encoding":{"fill":{"field":"p","type":"quantitative","legend":null},"detail":{"field":"id"},"order":{"field":"i","type":"quantitative"}}},
{"data":{"name":"regB"},"transform":[{"filter":"datum.p > 0.01 && datum.p <= 0.025"}],"mark":{"type":"line","interpolate":"linear-closed","strokeWidth":0},"encoding":{"fill":{"field":"p","type":"quantitative","legend":null},"detail":{"field":"id"},"order":{"field":"i","type":"quantitative"}}},
{"data":{"name":"regB"},"transform":[{"filter":"datum.p <= 0.01"}],"mark":{"type":"line","interpolate":"linear-closed","strokeWidth":0},"encoding":{"fill":{"field":"p","type":"quantitative","legend":null},"detail":{"field":"id"},"order":{"field":"i","type":"quantitative"}}},
{"data":{"name":"conB_loop"},"mark":{"type":"line","interpolate":"cardinal-closed","stroke":"#666666","strokeWidth":0.8},"encoding":{"detail":{"field":"id"},"order":{"field":"i","type":"quantitative"}}},
{"data":{"name":"conB_open"},"mark":{"type":"line","interpolate":"catmull-rom","stroke":"#666666","strokeWidth":0.8},"encoding":{"detail":{"field":"id"},"order":{"field":"i","type":"quantitative"}}},
{"data":{"values":[{"x":0,"y":0}]},"mark":{"type":"point","shape":"circle","filled":false,"stroke":"#000000","strokeWidth":3.5,"size":44100,"opacity":1}},
{"data":{"name":"nose"},"mark":{"type":"line","stroke":"#000000","strokeWidth":2.5},"encoding":{"order":{"field":"i","type":"quantitative"}}},
{"data":{"name":"ears"},"mark":{"type":"line","interpolate":"catmull-rom","stroke":"#000000","strokeWidth":3},"encoding":{"detail":{"field":"side"},"order":{"field":"i","type":"quantitative"}}},
{"data":{"name":"elec"},"mark":{"type":"text","font":"Liberation Sans","fontSize":26,"align":"center","baseline":"alphabetic","color":"#111111"},"encoding":{"text":{"field":"label"}}},
{"data":{"values":[{"t":"B","x":-2,"y":176}]},"mark":{"type":"text","font":"Liberation Sans","fontSize":25,"fontWeight":"bold","align":"center","baseline":"alphabetic","color":"#000000"},"encoding":{"text":{"field":"t"}}}
]
},
{
"width":31,"height":334,
"layer":[
{"data":{"values":[{"lo":0,"hi":0.05}]},"mark":{"type":"rect","fill":{"gradient":"linear","x1":0,"y1":1,"x2":0,"y2":0,"stops":[{"offset":0,"color":"#ff0000"},{"offset":1,"color":"#ffff00"}]},"stroke":"#222222","strokeWidth":1},
"encoding":{"x":{"datum":0,"type":"quantitative","scale":{"domain":[0,31],"nice":false,"zero":false},"axis":null},"x2":{"datum":31},"y":{"field":"lo","type":"quantitative","scale":{"domain":[0,0.070168],"nice":false,"zero":false},"axis":{"orient":"right","values":[0.01,0.02,0.03,0.04,0.05],"format":".2f","labelFont":"Liberation Sans","labelFontSize":28,"labelColor":"#111111","ticks":false,"domain":false,"grid":false,"title":null,"labelPadding":7,"labelOverlap":false,"labelBound":false}},"y2":{"field":"hi"}}},
{"data":{"name":"ticks"},"mark":{"type":"rule","stroke":"#333333","strokeWidth":1},"encoding":{"x":{"datum":27,"type":"quantitative"},"x2":{"datum":31},"y":{"field":"v","type":"quantitative"}}},
{"data":{"values":[{"lo":0.05651,"hi":0.06345}]},"mark":{"type":"rect","fill":"#ffffff","stroke":"#000000","strokeWidth":2},"encoding":{"x":{"datum":0,"type":"quantitative"},"x2":{"datum":27},"y":{"field":"lo","type":"quantitative"},"y2":{"field":"hi"}}},
{"data":{"values":[{"t":"> 0.05","y":0.058}]},"mark":{"type":"text","font":"Open Sans","fontSize":28,"align":"left","baseline":"alphabetic","color":"#111111"},"encoding":{"x":{"datum":35,"type":"quantitative"},"y":{"field":"y","type":"quantitative"},"text":{"field":"t"}}}
]
}
]
}
